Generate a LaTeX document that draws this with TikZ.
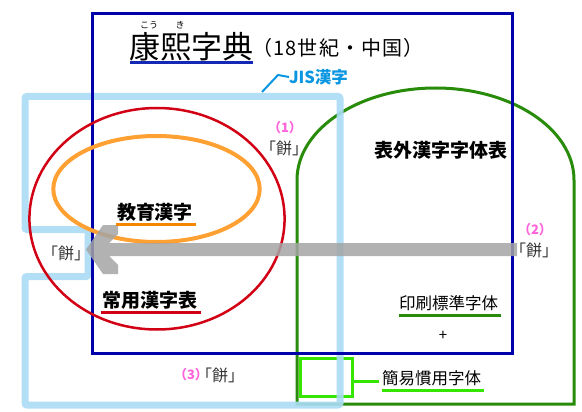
\documentclass[tikz,border=0pt]{standalone}
\usepackage{fontspec}
\newfontfamily\jp{Noto Sans CJK JP}
\definecolor{rblue}{RGB}{0,0,170}
\definecolor{ulblue}{RGB}{20,40,180}
\definecolor{lblue}{RGB}{170,220,245}
\definecolor{jisc}{RGB}{10,150,225}
\definecolor{dgreen}{RGB}{40,140,10}
\definecolor{bgreen}{RGB}{55,230,0}
\definecolor{kred}{RGB}{210,0,20}
\definecolor{kor}{RGB}{255,160,50}
\definecolor{kor2}{RGB}{245,135,0}
\definecolor{pinkc}{RGB}{255,100,220}
\definecolor{garr}{RGB}{165,165,165}
\tikzset{
  txt/.style={inner sep=0pt, outer sep=0pt, font=\jp\fontsize{#1}{#1}\selectfont},
  btxt/.style={inner sep=0pt, outer sep=0pt, font=\jp\bfseries\fontsize{#1}{#1}\selectfont},
  pnum/.style={btxt=13, text=pinkc},
  mochi/.style={txt=16, text=black!80},
  ulline/.style={line width=3pt},
}
\begin{document}
\begin{tikzpicture}[x=1pt,y=-1pt]
\useasboundingbox (0,0) rectangle (582,412);
\fill[white] (0,0) rectangle (582,412);
% green arch shape (hyogai)
\draw[dgreen, line width=3pt] (297,404) -- (297,180)
  arc[start angle=180, end angle=0, x radius=138.5pt, y radius=92pt]
  -- (574,404) -- cycle;
% bright green square
\node[draw=bgreen, line width=3pt, minimum width=52pt, minimum height=38pt, inner sep=0pt] (sq) at (326.5,377.5) {};
% JIS light blue outline
\draw[lblue, line width=7pt, opacity=.9, rounded corners=2pt]
  (25,96.5) -- (340,96.5) -- (340,405) -- (25,405) -- (25,276.5) -- (88,276.5)
  -- (88,229.5) -- (25,229.5) -- cycle;
% Kangxi blue rectangle
\draw[rblue, line width=3pt] (92.5,13.5) rectangle (512,353);
% joyo red ellipse
\draw[kred, line width=2.5pt] (157,218.75) ellipse[x radius=127.6pt, y radius=110.75pt];
% kyoiku orange ellipse
\draw[kor, line width=4pt] (156.5,189) ellipse[x radius=103.2pt, y radius=53pt];
% gray arrow
\fill[garr, opacity=.85] (86,249.5) -- (103,225) -- (118,225) -- (118,234) -- (109,243)
  -- (517,243) -- (517,256) -- (109,256) -- (118,265) -- (118,274) -- (103,274) -- cycle;
% title
\node[txt=9] (ko) at (149,25) {こう};
\node[txt=9] (ki) at (180,25) {き};
\node[txt=31, anchor=west] (kk) at (129,47) {康熙字典};
\draw[ulblue, line width=2.5pt] (130,62.5) -- (253,62.5);
\node[txt=20, anchor=west] (era) at (252,48) {\addfontfeature{LetterSpace=6}（18世紀・中国）};
% JIS label
\node[btxt=16.5, text=jisc, anchor=west] (jis) at (289,77) {JIS漢字};
\coordinate (jisstart) at (262,92);
\draw[jisc, line width=2pt] (jisstart) -- (278,75) -- (jis.west);
% labels
\node[btxt=19] (hyo) at (441,150) {表外漢字字体表};
\node[btxt=19] (kyo) at (155,212) {教育漢字};
\draw[kor2, ulline] (116,224) -- (196,224);
\node[btxt=19] (joyo) at (150,300) {常用漢字表};
\draw[kred, ulline] (101,312) -- (201,312);
\node[txt=16.5] (ins) at (448.5,303) {印刷標準字体};
\draw[dgreen, ulline] (399,315) -- (501,315);
\node[txt=15] (plus) at (443,336) {+};
\node[txt=16.5] (kan) at (431.5,378) {簡易慣用字体};
\draw[bgreen, ulline] (382,390) -- (484,390);
\coordinate (kanend) at (379,381);
\draw[bgreen, line width=3pt] ([yshift=-3.5pt]sq.east) -- (kanend);
% mochi variants
\node[pnum] (n1) at (285,128) {（1）};
\node[mochi] (m1) at (284,148) {｢餅｣};
\node[pnum] (n2) at (535,230) {（2）};
\node[mochi] (m2) at (534,250) {｢餅｣};
\node[mochi] (m0) at (66,253) {｢餅｣};
\node[pnum] (n3) at (191,375) {（3）};
\node[mochi] (m3) at (220,375) {｢餅｣};
\end{tikzpicture}
\end{document}
